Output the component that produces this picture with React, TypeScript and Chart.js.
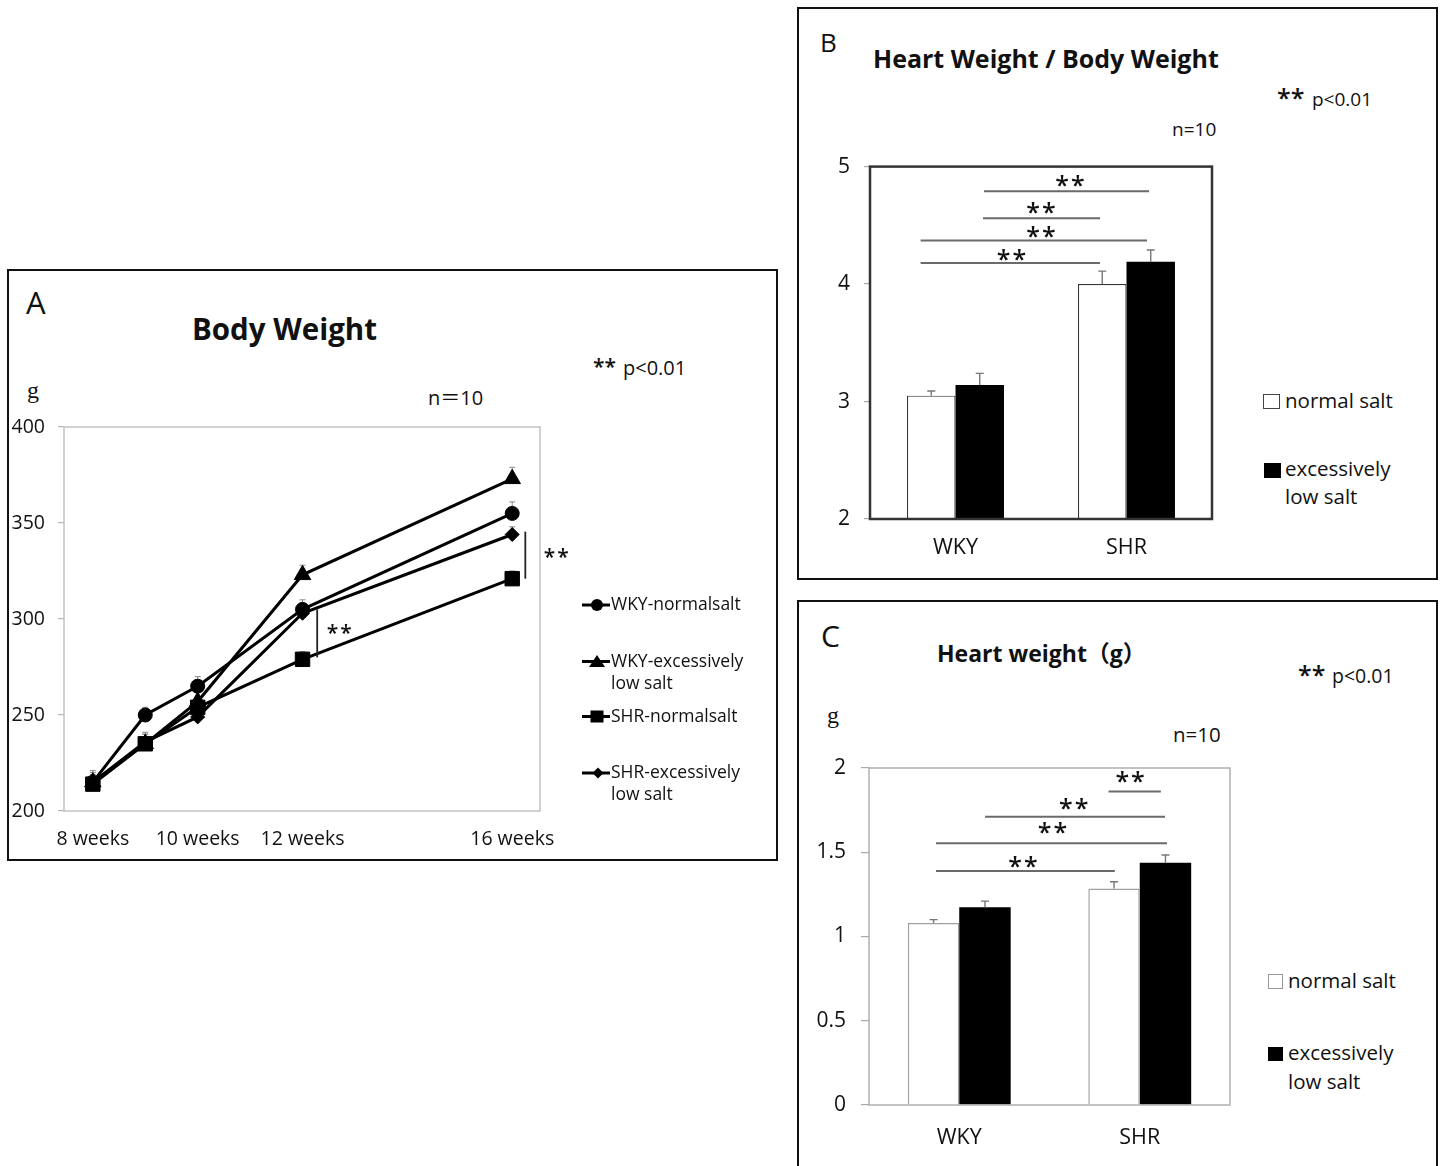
import React, { useEffect, useRef } from "react";
import { Chart, registerables } from "chart.js";
Chart.register(...registerables);

const FONT = "'Open Sans', 'Noto Sans', 'Noto Sans CJK JP', sans-serif";
const STAR_FONT = "'Open Sans', sans-serif";
const INK = "#111";

// ---------- Panel A: Body Weight ----------
const WEEKS = [8, 9, 10, 12, 16];
const WEEK_TICKS = [8, 10, 12, 16];
const BW_SERIES = ["WKY-normalsalt", "WKY-excessively low salt", "SHR-normalsalt", "SHR-excessively low salt"];
const BW_WKY_NORMAL = [215, 250, 265, 305, 355];
const BW_WKY_LOW = [215, 235, 257, 323, 373];
const BW_SHR_NORMAL = [214, 235, 254, 279, 321];
const BW_SHR_LOW = [215, 236, 249, 303, 344];
const BW_WKY_NORMAL_ERR = [5, 4, 5, 5, 6];
const BW_WKY_LOW_ERR = [6, 5, 5, 5, 6];
const BW_SHR_NORMAL_ERR = [4, 5, 4, 4, 4];
const BW_SHR_LOW_ERR = [4, 5, 4, 5, 4];
// vertical significance brackets: at week x, between two values, stars at (sx, sy)
const BW_BRACKETS = [
  { x: 12.28, from: 305, to: 280, sx: 12.72, sy: 295 },
  { x: 16.25, from: 345.5, to: 321, sx: 16.86, sy: 334.5 },
];

// ---------- Panels B & C ----------
const GROUPS = ["WKY", "SHR"];
const BAR_SERIES = ["normal salt", "excessively low salt"];
const HWBW_NORMAL = [3.05, 4.0];
const HWBW_LOW = [3.14, 4.19];
const HWBW_NORMAL_ERR = [0.04, 0.11];
const HWBW_LOW_ERR = [0.1, 0.1];
const HWBW_BRACKETS = [
  { from: 0.167, to: 1.132, y: 4.79, sx: 0.675, sy: 4.88 },
  { from: 0.161, to: 0.845, y: 4.56, sx: 0.506, sy: 4.65 },
  { from: -0.204, to: 1.12, y: 4.37, sx: 0.506, sy: 4.445 },
  { from: -0.204, to: 0.845, y: 4.18, sx: 0.333, sy: 4.25 },
];
const HW_NORMAL = [1.08, 1.285];
const HW_LOW = [1.174, 1.438];
const HW_NORMAL_ERR = [0.02, 0.04];
const HW_LOW_ERR = [0.036, 0.046];
const HW_BRACKETS = [
  { from: 0.827, to: 1.117, y: 1.86, sx: 0.952, sy: 1.947 },
  { from: 0.143, to: 1.14, y: 1.71, sx: 0.64, sy: 1.789 },
  { from: -0.129, to: 1.151, y: 1.554, sx: 0.522, sy: 1.642 },
  { from: -0.129, to: 0.862, y: 1.389, sx: 0.359, sy: 1.442 },
];

function drawStars(ctx: CanvasRenderingContext2D, x: number, cy: number, size: number) {
  ctx.save();
  ctx.font = `600 ${size}px ${STAR_FONT}`;
  ctx.fillStyle = INK;
  ctx.textAlign = "center";
  ctx.textBaseline = "alphabetic";
  try { (ctx as any).letterSpacing = "2px"; } catch (e) {}
  const m = ctx.measureText("**");
  const base = cy + (m.actualBoundingBoxAscent - m.actualBoundingBoxDescent) / 2;
  ctx.fillText("**", x, base);
  ctx.restore();
}

function plotBoxPlugin(color: string, width: number, before: boolean) {
  const draw = (chart: any) => {
    const { ctx, chartArea: a } = chart;
    ctx.save();
    ctx.strokeStyle = color;
    ctx.lineWidth = width;
    ctx.strokeRect(a.left, a.top, a.right - a.left, a.bottom - a.top);
    ctx.restore();
  };
  return before ? { id: "plotBox", beforeDatasetsDraw: draw } : { id: "plotBox", afterDatasetsDraw: draw };
}

function errorBarPlugin(errs: number[][], color: string, lineWidth: number, capHalf: number, before: boolean) {
  const draw = (chart: any) => {
    const { ctx } = chart;
    const yS = chart.scales.y;
    ctx.save();
    ctx.strokeStyle = color;
    ctx.lineWidth = lineWidth;
    chart.data.datasets.forEach((ds: any, i: number) => {
      const meta = chart.getDatasetMeta(i);
      meta.data.forEach((el: any, j: number) => {
        const raw = ds.data[j];
        const v = typeof raw === "number" ? raw : raw.y;
        const yTop = yS.getPixelForValue(v + errs[i][j]);
        ctx.beginPath();
        ctx.moveTo(el.x, el.y);
        ctx.lineTo(el.x, yTop);
        ctx.moveTo(el.x - capHalf, yTop);
        ctx.lineTo(el.x + capHalf, yTop);
        ctx.stroke();
      });
    });
    ctx.restore();
  };
  return before ? { id: "errorBars", beforeDatasetsDraw: draw } : { id: "errorBars", afterDatasetsDraw: draw };
}

function barBracketPlugin(items: any[], color: string, lw: number, starSize: number) {
  return {
    id: "brackets",
    afterDatasetsDraw(chart: any) {
      const { ctx } = chart;
      const xS = chart.scales.x;
      const yS = chart.scales.y;
      const p0 = xS.getPixelForValue(0);
      const p1 = xS.getPixelForValue(1);
      const px = (f: number) => p0 + f * (p1 - p0);
      ctx.save();
      ctx.strokeStyle = color;
      ctx.lineWidth = lw;
      items.forEach((b) => {
        const y = yS.getPixelForValue(b.y);
        ctx.beginPath();
        ctx.moveTo(px(b.from), y);
        ctx.lineTo(px(b.to), y);
        ctx.stroke();
      });
      ctx.restore();
      items.forEach((b) => drawStars(ctx, px(b.sx), yS.getPixelForValue(b.sy), starSize));
    },
  };
}

function lineBracketPlugin(items: any[]) {
  return {
    id: "vbrackets",
    afterDatasetsDraw(chart: any) {
      const { ctx } = chart;
      const xS = chart.scales.x;
      const yS = chart.scales.y;
      ctx.save();
      ctx.strokeStyle = "#222";
      ctx.lineWidth = 1.8;
      items.forEach((b) => {
        const x = xS.getPixelForValue(b.x);
        ctx.beginPath();
        ctx.moveTo(x, yS.getPixelForValue(b.from));
        ctx.lineTo(x, yS.getPixelForValue(b.to));
        ctx.stroke();
      });
      ctx.restore();
      items.forEach((b) => drawStars(ctx, xS.getPixelForValue(b.sx), yS.getPixelForValue(b.sy), 21));
    },
  };
}

const COMMON = {
  animation: false,
  responsive: false,
  maintainAspectRatio: false,
  devicePixelRatio: 1,
  events: [],
};

function makeBodyWeight() {
  const pts = (ys: number[]) => WEEKS.map((x, i) => ({ x, y: ys[i] }));
  const base = {
    showLine: true,
    borderColor: "#000",
    backgroundColor: "#000",
    borderWidth: 3,
    pointBackgroundColor: "#000",
    pointBorderColor: "#000",
    pointBorderWidth: 1,
    tension: 0,
  };
  return {
    type: "scatter",
    data: {
      datasets: [
        { ...base, label: BW_SERIES[0], data: pts(BW_WKY_NORMAL), pointStyle: "circle", pointRadius: 7 },
        { ...base, label: BW_SERIES[1], data: pts(BW_WKY_LOW), pointStyle: "triangle", pointRadius: 9.5 },
        { ...base, label: BW_SERIES[2], data: pts(BW_SHR_NORMAL), pointStyle: "rect", pointRadius: 10.2 },
        { ...base, label: BW_SERIES[3], data: pts(BW_SHR_LOW), pointStyle: "rectRot", pointRadius: 7 },
      ],
    },
    options: {
      ...COMMON,
      layout: { padding: { left: 0, top: 27, right: 40, bottom: 0 } },
      plugins: { legend: { display: false }, tooltip: { enabled: false } },
      scales: {
        x: {
          type: "linear",
          min: 7.45,
          max: 16.53,
          afterBuildTicks: (s: any) => {
            s.ticks = WEEK_TICKS.map((v) => ({ value: v }));
          },
          ticks: {
            callback: (v: any) => `${v} weeks`,
            font: { family: FONT, size: 19.5 },
            color: INK,
            padding: 17,
            maxRotation: 0,
            autoSkip: false,
          },
          grid: { display: false, drawTicks: false },
          border: { display: false },
          afterFit: (s: any) => {
            s.height = 47;
          },
        },
        y: {
          min: 200,
          max: 400,
          ticks: { stepSize: 50, font: { family: FONT, size: 19.5 }, color: INK, padding: 13 },
          grid: { drawOnChartArea: false, drawTicks: true, tickLength: 6, color: "#b5b5b5", lineWidth: 1.2 },
          border: { display: false },
          afterFit: (s: any) => {
            s.width = 56;
          },
        },
      },
    },
    plugins: [
      plotBoxPlugin("#c2c2c2", 1.5, true),
      errorBarPlugin([BW_WKY_NORMAL_ERR, BW_WKY_LOW_ERR, BW_SHR_NORMAL_ERR, BW_SHR_LOW_ERR], "#888", 1, 3, true),
      lineBracketPlugin(BW_BRACKETS),
    ],
  };
}

function makeBars(opts: any) {
  return {
    type: "bar",
    data: {
      labels: GROUPS,
      datasets: [
        {
          label: BAR_SERIES[0],
          data: opts.normal,
          backgroundColor: "#fff",
          borderColor: opts.whiteBorder,
          borderWidth: opts.whiteBorderWidth,
          categoryPercentage: opts.catPct,
          barPercentage: 1,
        },
        {
          label: BAR_SERIES[1],
          data: opts.low,
          backgroundColor: "#000",
          borderColor: "#000",
          borderWidth: 0,
          categoryPercentage: opts.catPct,
          barPercentage: 1,
        },
      ],
    },
    options: {
      ...COMMON,
      layout: { padding: opts.padding },
      plugins: { legend: { display: false }, tooltip: { enabled: false } },
      scales: {
        x: {
          grid: { display: false, drawTicks: false },
          border: { display: false },
          ticks: { font: { family: FONT, size: 21.5 }, color: INK, padding: opts.xPad },
          afterFit: (s: any) => {
            s.height = opts.xHeight;
          },
        },
        y: {
          min: opts.min,
          max: opts.max,
          ticks: {
            stepSize: opts.step,
            font: { family: FONT, size: 21 },
            color: INK,
            padding: opts.yPad,
            callback: (v: any) => `${Number(v)}`,
          },
          grid: { drawOnChartArea: false, drawTicks: true, tickLength: opts.tickLen, color: "#a8a8a8", lineWidth: 1.2 },
          border: { display: false },
          afterFit: (s: any) => {
            s.width = opts.yWidth;
          },
        },
      },
    },
    plugins: [
      plotBoxPlugin(opts.boxColor, opts.boxWidth, false),
      errorBarPlugin([opts.normalErr, opts.lowErr], "#777", 1.4, 4, false),
      barBracketPlugin(opts.brackets, "#6a6a6a", 2, 25),
    ],
  };
}

function ChartBox({ left, top, width, height, make }: { left: number; top: number; width: number; height: number; make: () => any }) {
  const ref = useRef<HTMLCanvasElement>(null);
  useEffect(() => {
    const chart = new Chart(ref.current as HTMLCanvasElement, make());
    return () => chart.destroy();
  }, []);
  return (
    <canvas
      ref={ref}
      width={width}
      height={height}
      style={{ position: "absolute", left, top, width, height }}
    />
  );
}

function Txt({ x, y, size, bold, family, children, k, weight }: { x: number; y: number; size: number; bold?: boolean; family?: string; children: any; k?: number; weight?: number }) {
  return (
    <div
      style={{
        position: "absolute",
        left: x,
        top: y - (k ?? 0.55) * size,
        fontSize: size,
        lineHeight: 1,
        fontFamily: family ?? FONT,
        fontWeight: weight ?? (bold ? 700 : 400),
        whiteSpace: "pre",
        color: INK,
      }}
    >
      {children}
    </div>
  );
}

function Panel({ left, top, width, height }: { left: number; top: number; width: number; height: number }) {
  return (
    <div
      style={{
        position: "absolute",
        left,
        top,
        width,
        height,
        border: "2px solid #111",
        boxSizing: "border-box",
      }}
    />
  );
}

function LegendSquare({ x, y, w, h, fill, stroke }: { x: number; y: number; w: number; h: number; fill: string; stroke: string }) {
  return (
    <div
      style={{
        position: "absolute",
        left: x,
        top: y,
        width: w,
        height: h,
        background: fill,
        border: `1.5px solid ${stroke}`,
        boxSizing: "border-box",
      }}
    />
  );
}

export default function App() {
  return (
    <div
      style={{
        position: "absolute",
        left: 0,
        top: 0,
        width: 1440,
        height: 1166,
        overflow: "hidden",
        background: "#fff",
      }}
    >
      {/* Panel A */}
      <Panel left={7} top={269} width={771} height={592} />
      <Txt x={26} y={304} size={31}>A</Txt>
      <Txt x={192} y={330} size={29.5} bold>Body Weight</Txt>
      <Txt x={593} y={362} size={21} k={0.3} weight={600}>**</Txt>
      <Txt x={623} y={368.5} size={20}>p&lt;0.01</Txt>
      <Txt x={27} y={391} size={24} family="'Liberation Serif', serif">g</Txt>
      <Txt x={428} y={399} size={20}>n＝10</Txt>
      <ChartBox left={8} top={400} width={572} height={458} make={makeBodyWeight} />
      <svg style={{ position: "absolute", left: 578, top: 590 }} width={40} height={220}>
        <g stroke="#000" strokeWidth={3}>
          <line x1={4} y1={15} x2={32} y2={15} />
          <line x1={4} y1={71.5} x2={32} y2={71.5} />
          <line x1={4} y1={126.5} x2={32} y2={126.5} />
          <line x1={4} y1={183} x2={32} y2={183} />
        </g>
        <circle cx={19} cy={15} r={6} fill="#000" />
        <polygon points="11,77 27,77 19,65" fill="#000" />
        <rect x={12.5} y={120.5} width={13} height={12} fill="#000" />
        <polygon points="20,177.5 25.5,183 20,188.5 14.5,183" fill="#000" />
      </svg>
      <Txt x={611} y={605} size={17.5}>WKY-normalsalt</Txt>
      <Txt x={611} y={661.5} size={17.5}>WKY-excessively</Txt>
      <Txt x={611} y={683.5} size={17.5}>low salt</Txt>
      <Txt x={611} y={716.5} size={17.5}>SHR-normalsalt</Txt>
      <Txt x={611} y={773} size={17.5}>SHR-excessively</Txt>
      <Txt x={611} y={795} size={17.5}>low salt</Txt>

      {/* Panel B */}
      <Panel left={797} top={7} width={641} height={573} />
      <Txt x={820} y={43} size={26}>B</Txt>
      <Txt x={873} y={60} size={25} bold>Heart Weight / Body Weight</Txt>
      <Txt x={1277} y={92} size={25} k={0.3} weight={600}>**</Txt>
      <Txt x={1312} y={100} size={19}>p&lt;0.01</Txt>
      <Txt x={1172} y={130} size={19}>n=10</Txt>
      <ChartBox
        left={800}
        top={140}
        width={420}
        height={430}
        make={() =>
          makeBars({
            normal: HWBW_NORMAL,
            low: HWBW_LOW,
            normalErr: HWBW_NORMAL_ERR,
            lowErr: HWBW_LOW_ERR,
            brackets: HWBW_BRACKETS,
            min: 2,
            max: 5,
            step: 1,
            catPct: 0.567,
            whiteBorder: "#333",
            whiteBorderWidth: 1.2,
            boxColor: "#333",
            boxWidth: 2.5,
            padding: { left: 0, top: 22, right: 8, bottom: 0 },
            yWidth: 70,
            xHeight: 51,
            xPad: 16,
            yPad: 14,
            tickLen: 6,
          })
        }
      />
      <LegendSquare x={1263} y={394} w={17} h={15} fill="#fff" stroke="#444" />
      <Txt x={1285} y={401} size={20.5}>normal salt</Txt>
      <LegendSquare x={1264} y={463} w={17} h={15} fill="#000" stroke="#000" />
      <Txt x={1285} y={469.5} size={20.5}>excessively</Txt>
      <Txt x={1285} y={497} size={20.5}>low salt</Txt>

      {/* Panel C */}
      <Panel left={797} top={600} width={641} height={600} />
      <Txt x={821} y={637} size={30}>C</Txt>
      <Txt x={937} y={655} size={23} bold>Heart weight（g）</Txt>
      <Txt x={1298} y={669.5} size={25} k={0.3} weight={600}>**</Txt>
      <Txt x={1332} y={677} size={19.5}>p&lt;0.01</Txt>
      <Txt x={827} y={716} size={24} family="'Liberation Serif', serif">g</Txt>
      <Txt x={1173} y={735} size={20.5}>n=10</Txt>
      <ChartBox
        left={800}
        top={740}
        width={440}
        height={426}
        make={() =>
          makeBars({
            normal: HW_NORMAL,
            low: HW_LOW,
            normalErr: HW_NORMAL_ERR,
            lowErr: HW_LOW_ERR,
            brackets: HW_BRACKETS,
            min: 0,
            max: 2,
            step: 0.5,
            catPct: 0.57,
            whiteBorder: "#a0a0a0",
            whiteBorderWidth: 1.5,
            boxColor: "#b0b0b0",
            boxWidth: 1.5,
            padding: { left: 0, top: 28, right: 10, bottom: 0 },
            yWidth: 69,
            xHeight: 61,
            xPad: 20,
            yPad: 15,
            tickLen: 8,
          })
        }
      />
      <LegendSquare x={1268} y={974} w={15} h={15} fill="#fff" stroke="#999" />
      <Txt x={1288} y={981} size={20.5}>normal salt</Txt>
      <LegendSquare x={1268} y={1047} w={15} h={14} fill="#000" stroke="#000" />
      <Txt x={1288} y={1053.5} size={20.5}>excessively</Txt>
      <Txt x={1288} y={1082.5} size={20.5}>low salt</Txt>
    </div>
  );
}
